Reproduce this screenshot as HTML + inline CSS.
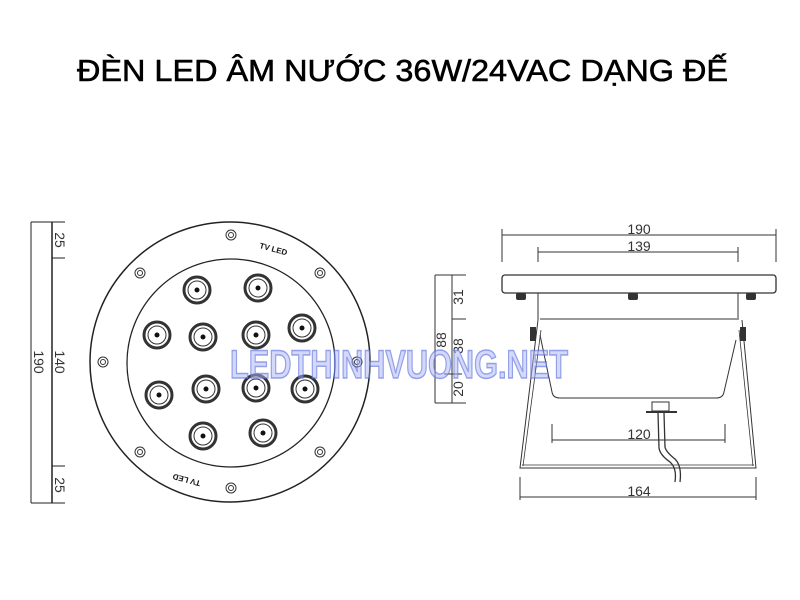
<!DOCTYPE html>
<html><head><meta charset="utf-8"><style>
html,body{margin:0;padding:0;background:#fff;width:800px;height:600px;overflow:hidden}
text{font-family:"Liberation Sans",sans-serif}
</style></head><body>
<svg width="800" height="600" viewBox="0 0 800 600" xmlns="http://www.w3.org/2000/svg">
<rect width="800" height="600" fill="#fff"/>
<text x="77" y="81" font-size="31" textLength="651" lengthAdjust="spacingAndGlyphs" fill="#000" stroke="#000" stroke-width="0.6">ĐÈN LED ÂM NƯỚC 36W/24VAC DẠNG ĐẾ</text>

<g stroke="#222" stroke-width="1" fill="none">
<line x1="31" y1="222" x2="31" y2="503"/>
<line x1="52" y1="222" x2="52" y2="503" stroke-width="1.5"/>
<line x1="31" y1="222" x2="65" y2="222"/>
<line x1="31" y1="503" x2="65" y2="503"/>
<line x1="52" y1="258" x2="65" y2="258"/>
<line x1="52" y1="466" x2="65" y2="466"/>
</g>
<g font-size="14" fill="#333">
<text transform="translate(55,240) rotate(90)" text-anchor="middle">25</text>
<text transform="translate(55,362) rotate(90)" text-anchor="middle">140</text>
<text transform="translate(34,362) rotate(90)" text-anchor="middle">190</text>
<text transform="translate(55,485) rotate(90)" text-anchor="middle">25</text>
</g>

<g stroke="#222" fill="none">
<circle cx="230" cy="362" r="140" stroke-width="1.5"/>
<circle cx="231" cy="363" r="104" stroke-width="1.3"/>
</g>
<g stroke="#333" fill="none" stroke-width="1">
<circle cx="231" cy="235" r="5"/><circle cx="231" cy="235" r="2.5"/>
<circle cx="140" cy="273" r="5"/><circle cx="140" cy="273" r="2.5"/>
<circle cx="320" cy="273" r="5"/><circle cx="320" cy="273" r="2.5"/>
<circle cx="103" cy="362" r="5"/><circle cx="103" cy="362" r="2.5"/>
<circle cx="357" cy="362" r="5"/><circle cx="357" cy="362" r="2.5"/>
<circle cx="140" cy="452" r="5"/><circle cx="140" cy="452" r="2.5"/>
<circle cx="320" cy="452" r="5"/><circle cx="320" cy="452" r="2.5"/>
<circle cx="231" cy="488" r="5"/><circle cx="231" cy="488" r="2.5"/>
</g>
<g fill="none" stroke="#333">
<circle cx="197" cy="290" r="13" stroke-width="3"/><circle cx="197" cy="290" r="9"/>
<circle cx="258" cy="288" r="13" stroke-width="3"/><circle cx="258" cy="288" r="9"/>
<circle cx="157" cy="335" r="13" stroke-width="3"/><circle cx="157" cy="335" r="9"/>
<circle cx="203" cy="337" r="13" stroke-width="3"/><circle cx="203" cy="337" r="9"/>
<circle cx="256" cy="335" r="13" stroke-width="3"/><circle cx="256" cy="335" r="9"/>
<circle cx="302" cy="328" r="13" stroke-width="3"/><circle cx="302" cy="328" r="9"/>
<circle cx="159" cy="395" r="13" stroke-width="3"/><circle cx="159" cy="395" r="9"/>
<circle cx="206" cy="389" r="13" stroke-width="3"/><circle cx="206" cy="389" r="9"/>
<circle cx="256" cy="388" r="13" stroke-width="3"/><circle cx="256" cy="388" r="9"/>
<circle cx="305" cy="389" r="13" stroke-width="3"/><circle cx="305" cy="389" r="9"/>
<circle cx="203" cy="436" r="13" stroke-width="3"/><circle cx="203" cy="436" r="9"/>
<circle cx="263" cy="433" r="13" stroke-width="3"/><circle cx="263" cy="433" r="9"/>
</g>
<g fill="#111">
<circle cx="197" cy="290" r="2.5"/><circle cx="258" cy="288" r="2.5"/><circle cx="157" cy="335" r="2.5"/><circle cx="203" cy="337" r="2.5"/><circle cx="256" cy="335" r="2.5"/><circle cx="302" cy="328" r="2.5"/><circle cx="159" cy="395" r="2.5"/><circle cx="206" cy="389" r="2.5"/><circle cx="256" cy="388" r="2.5"/><circle cx="305" cy="389" r="2.5"/><circle cx="203" cy="436" r="2.5"/><circle cx="263" cy="433" r="2.5"/>
</g>
<text transform="translate(259,248) rotate(15)" font-size="8" font-weight="bold" fill="#111">TV LED</text>
<text transform="translate(201,481) rotate(195)" font-size="8" font-weight="bold" fill="#111">TV LED</text>

<g stroke="#333" fill="none" stroke-width="1">
<line x1="502" y1="235" x2="776" y2="235"/><line x1="502" y1="229" x2="502" y2="262"/><line x1="776" y1="229" x2="776" y2="262"/>
<line x1="538" y1="252" x2="738" y2="252"/><line x1="538" y1="247" x2="538" y2="262"/><line x1="738" y1="247" x2="738" y2="262"/>
<rect x="502" y="275" width="274" height="18" rx="3" stroke-width="1.3"/>
<line x1="538" y1="293" x2="538" y2="320"/><line x1="738" y1="293" x2="738" y2="320"/>
<line x1="540" y1="319" x2="737" y2="319"/>
<path d="M540 335 L552 392 Q553 398 560 398 L716 398 Q723 398 724 392 L736 340"/>
<path d="M538 320 L520 468 L756 468 L742 320"/>
<path d="M541 330 L523 466 M739 330 L753 466" stroke-width="0.8"/>
<line x1="522" y1="465" x2="754" y2="465" stroke-width="0.8"/>
<line x1="552" y1="440" x2="725" y2="440"/><line x1="552" y1="424" x2="552" y2="443"/><line x1="725" y1="424" x2="725" y2="443"/>
<line x1="520" y1="497" x2="756" y2="497"/><line x1="520" y1="477" x2="520" y2="500"/><line x1="756" y1="477" x2="756" y2="500"/>
<line x1="435" y1="275" x2="435" y2="403"/><line x1="452" y1="275" x2="452" y2="403"/>
<line x1="435" y1="275" x2="466" y2="275"/><line x1="452" y1="319" x2="466" y2="319"/>
<line x1="444" y1="374" x2="462" y2="374"/><line x1="435" y1="403" x2="466" y2="403"/>
<rect x="652" y="402" width="17" height="9"/>
<line x1="646" y1="412" x2="677" y2="412" stroke-width="2"/>
<path d="M658 413 L659 448 Q660 455 670 462 Q677 468 675 482 M664 413 L665 447 Q666 452 675 459 Q682 466 680 482" stroke-width="1.3"/>
</g>
<g fill="#333">
<rect x="516" y="293" width="10" height="7" rx="2"/><rect x="628" y="293" width="10" height="7" rx="2"/><rect x="746" y="293" width="10" height="7" rx="2"/>
<rect x="530" y="327" width="6" height="14"/><rect x="740" y="327" width="6" height="14"/>
</g>
<g font-size="14" fill="#333" text-anchor="middle">
<text x="639" y="234">190</text>
<text x="639" y="251">139</text>
<text x="639" y="439">120</text>
<text x="639" y="496">164</text>
<text transform="translate(463,297) rotate(-90)">31</text>
<text transform="translate(446,340) rotate(-90)">88</text>
<text transform="translate(463,346) rotate(-90)">38</text>
<text transform="translate(463,389) rotate(-90)">20</text>
</g>

<text x="230" y="378" font-size="40" font-weight="bold" textLength="338" lengthAdjust="spacingAndGlyphs" fill="rgba(170,180,245,0.5)" stroke="rgba(90,110,220,0.6)" stroke-width="1.5">LEDTHINHVUONG.NET</text>
</svg>
</body></html>
